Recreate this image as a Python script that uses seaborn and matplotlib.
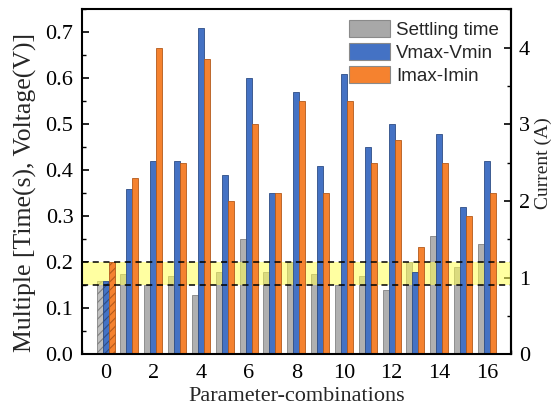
import matplotlib
matplotlib.use("Agg")
import matplotlib.pyplot as plt
from matplotlib.ticker import MultipleLocator, FormatStrFormatter
from matplotlib.patches import Patch
import seaborn as sns
import pandas as pd

# ---- data ----
combos = list(range(17))
settling_time = [0.16, 0.175, 0.15, 0.17, 0.13, 0.18, 0.25, 0.18, 0.20, 0.175,
                 0.15, 0.17, 0.14, 0.20, 0.257, 0.19, 0.24]          # s
vmax_vmin = [0.16, 0.36, 0.42, 0.42, 0.71, 0.39, 0.60, 0.35, 0.57, 0.41,
             0.61, 0.45, 0.50, 0.18, 0.48, 0.32, 0.42]               # V
imax_imin = [1.2, 2.3, 4.0, 2.5, 3.85, 2.0, 3.0, 2.1, 3.3, 2.1,
             3.3, 2.5, 2.8, 1.4, 2.5, 1.8, 2.1]                      # A
series = ["Settling time", "Vmax-Vmin", "Imax-Imin"]
colors = ["#a8a8a8", "#4472c4", "#f5822f"]
edges = ["#7a7a7a", "#2e4d85", "#b35a1c"]
x_ticks = [0, 2, 4, 6, 8, 10, 12, 14, 16]
left_ticks = [0.0, 0.1, 0.2, 0.3, 0.4, 0.5, 0.6, 0.7]
right_ticks = [0, 1, 2, 3, 4]
band = (0.15, 0.20)
current_per_unit = 6.0   # right axis (A) = 6 x left axis

sns.set_theme(style="ticks")
plt.rcParams["font.family"] = ["Liberation Serif", "DejaVu Serif"]
plt.rcParams["hatch.linewidth"] = 0.8

n = len(combos)
df = pd.DataFrame({
    "combo": combos * 3,
    "value": settling_time + vmax_vmin + [v / current_per_unit for v in imax_imin],
    "series": [series[0]] * n + [series[1]] * n + [series[2]] * n,
})

fig = plt.figure(figsize=(5.6, 4.13), dpi=100)
ax = fig.add_axes([0.146, 0.142, 0.766, 0.835])

sns.barplot(data=df, x="combo", y="value", hue="series", hue_order=series,
            palette=colors, width=0.75, dodge=True, saturation=1,
            errorbar=None, ax=ax, linewidth=0.6, legend=False)

for i, cont in enumerate(ax.containers):
    for j, bar in enumerate(cont):
        bar.set_edgecolor(edges[i])
        bar.set_zorder(1.5 if i == 0 else 2.5)
        if i == 0:
            bar.set_alpha(0.9)
        if j == 0:
            bar.set_hatch("////")
            if i == 0:
                bar.set_facecolor("#b8b8b8")

ax.axhspan(band[0], band[1], color="#ffff55", alpha=0.55, zorder=2, lw=0)
for yv in band:
    ax.axhline(yv, color="black", lw=1.1, ls=(0, (4, 3)), zorder=3)

ax.set_xlim(-1, 17)
ax.set_ylim(0, 0.75)
ax.set_xticks(x_ticks)
ax.set_xticklabels([str(t) for t in x_ticks])
ax.xaxis.set_minor_locator(MultipleLocator(1))
ax.set_yticks(left_ticks)
ax.yaxis.set_major_formatter(FormatStrFormatter("%.1f"))
ax.yaxis.set_minor_locator(MultipleLocator(0.05))

sec = ax.secondary_yaxis("right", functions=(lambda v: v * current_per_unit,
                                              lambda a: a / current_per_unit))
sec.set_yticks(right_ticks)
sec.yaxis.set_minor_locator(MultipleLocator(0.5))
sec.set_ylabel("Current (A)", fontsize=14)

for a in (ax, sec):
    a.tick_params(which="major", direction="in", length=5, width=1.2, pad=6,
                  labelsize=16, color="black", labelcolor="black")
    a.tick_params(which="minor", direction="in", length=3, width=1.0, color="black")
ax.tick_params(axis="x", which="major", pad=7)
for s in ax.spines.values():
    s.set_linewidth(1.5)
    s.set_color("black")
sec.spines["right"].set_linewidth(1.5)

ax.set_xlabel("Parameter-combinations", fontsize=16, labelpad=3)
ax.set_ylabel("Multiple [Time(s), Voltage(V)]", fontsize=18.5)
ax.yaxis.set_label_coords(-0.104, 0.47)
sec.yaxis.set_label_coords(1.055, 0.555, transform=ax.transAxes)

handles = [Patch(facecolor=c, edgecolor="#8a8a8a", linewidth=0.8) for c in colors]
ax.legend(handles, series, loc="upper right", frameon=False,
          prop={"family": "Liberation Sans", "size": 13.5},
          handlelength=2.2, handleheight=1.05, labelspacing=0.2,
          handletextpad=0.3, borderpad=0, borderaxespad=0,
          bbox_to_anchor=(0.972, 0.97))

fig.savefig("out.png", dpi=100)
